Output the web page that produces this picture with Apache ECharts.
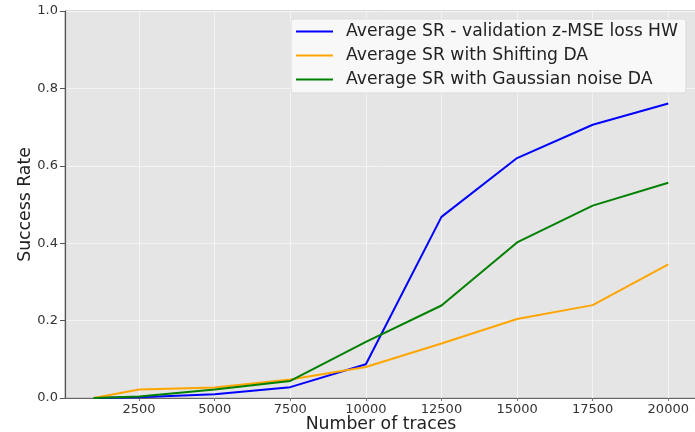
<!DOCTYPE html>
<html>
<head>
<meta charset="utf-8">
<script src="https://cdn.jsdelivr.net/npm/echarts@6/dist/echarts.min.js"></script>
<style>
  html, body { margin: 0; padding: 0; background: #fff; }
  #main { width: 695px; height: 432px; }
</style>
</head>
<body>
<div id="main"></div>
<script>
var traces = [1000, 2500, 5000, 7500, 10000, 12500, 15000, 17500, 20000];
var srZmse = [0, 0.002, 0.01, 0.028, 0.087, 0.468, 0.62, 0.706, 0.761];
var srShift = [0, 0.022, 0.027, 0.048, 0.08, 0.141, 0.204, 0.24, 0.345];
var srGauss = [0, 0.004, 0.022, 0.044, 0.145, 0.239, 0.402, 0.497, 0.556];
var xTicks = [2500, 5000, 7500, 10000, 12500, 15000, 17500, 20000];
var names = ['Average SR - validation z-MSE loss HW', 'Average SR with Shifting DA', 'Average SR with Gaussian noise DA'];
var colors = ['#0000ff', '#ffa500', '#008000'];

function pairs(ys) {
    return traces.map(function (x, i) { return [x, ys[i]]; });
}

var font = 'DejaVu Sans';
var chart = echarts.init(document.getElementById('main'));

var series = [srZmse, srShift, srGauss].map(function (ys, i) {
    return {
        name: names[i],
        type: 'line',
        data: pairs(ys),
        symbol: 'none',
        lineStyle: { color: colors[i], width: 2 },
        itemStyle: { color: colors[i] },
        animation: false
    };
});

chart.setOption({
    animation: false,
    grid: {
        left: 65, top: 11, right: -2, bottom: 34,
        outerBoundsMode: 'none',
        containLabel: false,
        show: true,
        backgroundColor: '#e5e5e5',
        borderColor: '#b0b0b0',
        borderWidth: 1
    },
    legend: {
        orient: 'vertical',
        left: 291, top: 19,
        padding: [3, 8, 4, 5],
        itemGap: 5,
        itemWidth: 37,
        itemHeight: 2,
        icon: 'rect',
        backgroundColor: 'rgba(250,250,250,0.9)',
        borderColor: '#dcdcdc',
        borderWidth: 1,
        borderRadius: 3,
        textStyle: { fontFamily: font, fontSize: 17.2, color: '#222', lineHeight: 19, padding: [0, 0, 0, 8] },
        data: names
    },
    xAxis: {
        type: 'value',
        min: 50, max: 20950,
        name: 'Number of traces',
        nameLocation: 'middle',
        nameMoveOverlap: false,
        nameGap: 18,
        nameTextStyle: { fontFamily: font, fontSize: 17.3, color: '#222' },
        axisLine: { show: true, lineStyle: { color: '#666', width: 1.2 } },
        axisTick: { show: true, length: 3, customValues: xTicks, lineStyle: { color: '#777' } },
        axisLabel: {
            customValues: xTicks,
            fontFamily: font, fontSize: 13, color: '#333', margin: 5,
            formatter: function (v) { return String(v); }
        },
        splitLine: { show: true, lineStyle: { color: '#f4f4f4', width: 1 } }
    },
    yAxis: {
        type: 'value',
        min: 0, max: 1, interval: 0.2,
        name: 'Success Rate',
        nameLocation: 'middle',
        nameMoveOverlap: false,
        nameGap: 31,
        nameTextStyle: { fontFamily: font, fontSize: 17.3, color: '#222' },
        axisLine: { show: true, lineStyle: { color: '#555', width: 1.2 } },
        axisTick: { show: true, length: 5, lineStyle: { color: '#555' } },
        axisLabel: {
            fontFamily: font, fontSize: 13, color: '#333', margin: 7,
            formatter: function (v) { return v.toFixed(1); }
        },
        splitLine: { show: true, lineStyle: { color: '#f4f4f4', width: 1 } }
    },
    series: series
});
</script>
</body>
</html>
